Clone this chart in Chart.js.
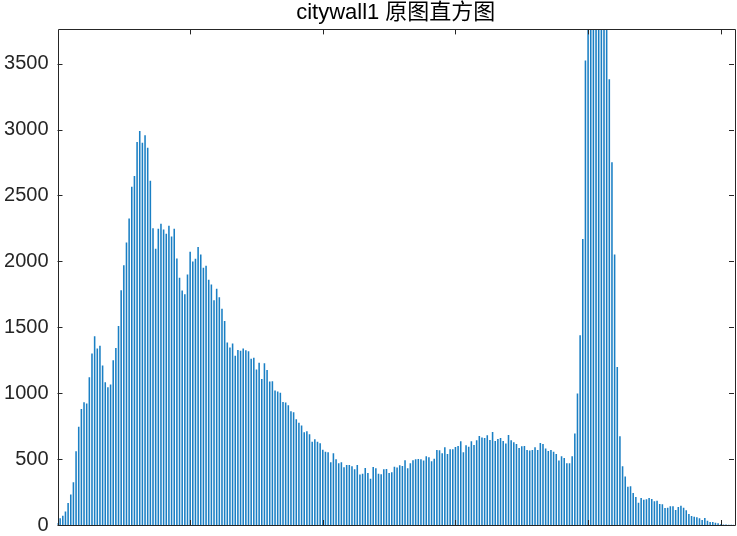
<!DOCTYPE html>
<html>
<head>
<meta charset="utf-8">
<script src="https://cdn.jsdelivr.net/npm/chart.js@4"></script>
<style>
    html, body { margin: 0; padding: 0; background: #fff; }
    #wrap { width: 737px; height: 536px; }
</style>
</head>
<body>
<div id="wrap"><canvas id="histChart"></canvas></div>
<script>
// ===== Data (pixel counts per grey level 0..255) =====
const chartTitle = 'citywall1 原图直方图';

const counts = [
    13, 48, 68, 99, 165, 228, 321, 557, 742, 878, 929, 919, 1119, 1298, 1430, 1336,
    1357, 1207, 1081, 1043, 1063, 1248, 1341, 1508, 1779, 1969, 2141, 2323, 2564, 2645, 2903, 2987,
    2898, 2954, 2860, 2609, 2248, 2093, 2245, 2283, 2240, 2207, 2268, 2187, 2245, 2020, 1873, 1777,
    1749, 1898, 2070, 1997, 2017, 2106, 2050, 1949, 1964, 1858, 1822, 1703, 1789, 1726, 1638, 1546,
    1382, 1344, 1374, 1281, 1326, 1319, 1336, 1324, 1316, 1258, 1266, 1177, 1228, 1106, 1225, 1174,
    1086, 1088, 1017, 1010, 1000, 931, 926, 906, 861, 853, 800, 774, 752, 701, 709, 686,
    630, 648, 630, 618, 569, 554, 549, 473, 542, 496, 466, 473, 435, 453, 453, 443,
    420, 453, 380, 387, 430, 392, 349, 438, 428, 387, 382, 420, 423, 392, 397, 440,
    433, 450, 445, 488, 428, 466, 488, 496, 499, 496, 486, 519, 511, 481, 501, 567,
    564, 542, 587, 537, 572, 572, 590, 597, 633, 549, 602, 592, 633, 605, 640, 673,
    661, 658, 678, 643, 704, 635, 650, 658, 635, 615, 681, 640, 625, 612, 582, 595,
    597, 567, 562, 567, 587, 567, 620, 612, 577, 559, 567, 554, 537, 486, 519, 506,
    466, 466, 519, 691, 995, 1438, 2167, 3521, 4900, 6200, 7100, 7400, 7000, 6100, 5000, 4100,
    3379, 2749, 2050, 1197, 671, 443, 365, 288, 291, 240, 210, 167, 202, 190, 192, 202,
    195, 177, 182, 157, 154, 127, 129, 139, 139, 111, 134, 144, 129, 109, 81, 66,
    61, 56, 48, 35, 51, 30, 20, 20, 15, 10, 4, 2, 1, 0, 0, 0
];
const levels = counts.map((_, i) => i);

const yTicks = [0, 500, 1000, 1500, 2000, 2500, 3000, 3500];
const xTicks = [50, 100, 150, 200, 250];
const yMax = 3760;

const barColor = '#1a7fc4';
const axisColor = '#262626';

// ===== MATLAB-style box with inward ticks =====
const boxPlugin = {
    id: 'boxPlugin',
    afterDraw(chart) {
        const { ctx, chartArea: a, scales } = chart;
        const len = 5;
        ctx.save();
        ctx.strokeStyle = axisColor;
        ctx.lineWidth = 1;
        ctx.beginPath();
        ctx.rect(Math.round(a.left) + 0.5, Math.round(a.top) + 0.5,
                 Math.round(a.right - a.left), Math.round(a.bottom - a.top));
        yTicks.forEach(v => {
            const y = Math.round(scales.y.getPixelForValue(v)) + 0.5;
            ctx.moveTo(a.left, y); ctx.lineTo(a.left + len, y);
            ctx.moveTo(a.right, y); ctx.lineTo(a.right - len, y);
        });
        xTicks.forEach(v => {
            const x = Math.round(scales.x.getPixelForValue(v)) + 0.5;
            ctx.moveTo(x, a.bottom); ctx.lineTo(x, a.bottom - len);
            ctx.moveTo(x, a.top); ctx.lineTo(x, a.top + len);
        });
        ctx.stroke();
        ctx.restore();
    }
};

// ===== Histogram =====
new Chart(document.getElementById('histChart'), {
    type: 'bar',
    data: {
        datasets: [{
            data: levels.map(i => ({ x: i, y: counts[i] })),
            backgroundColor: barColor,
            barThickness: 0.9,
            grouped: false
        }]
    },
    options: {
        responsive: true,
        maintainAspectRatio: false,
        animation: false,
        layout: { padding: { left: 0, right: 3, top: 0, bottom: 11 } },
        plugins: {
            legend: { display: false },
            tooltip: { enabled: false },
            title: {
                display: true,
                fullSize: false,
                text: chartTitle,
                color: '#000',
                font: { family: 'Liberation Sans, Arial, "Noto Sans CJK SC"', size: 22, weight: 'normal' },
                padding: { top: 0, bottom: 3 }
            }
        },
        scales: {
            x: {
                type: 'linear',
                display: false,
                offset: false,
                min: 0,
                max: 255
            },
            y: {
                min: 0,
                max: yMax,
                afterBuildTicks: scale => { scale.ticks = yTicks.map(v => ({ value: v })); },
                afterFit: scale => {
                    scale.width = 57.5;
                    scale.paddingTop = 0;
                    scale.paddingBottom = 0;
                },
                grid: { display: false, drawTicks: false },
                border: { display: false },
                ticks: {
                    color: axisColor,
                    padding: 9,
                    font: { family: 'Liberation Sans, Arial', size: 20 },
                    callback: value => String(value)
                }
            }
        }
    },
    plugins: [boxPlugin]
});
</script>
</body>
</html>
